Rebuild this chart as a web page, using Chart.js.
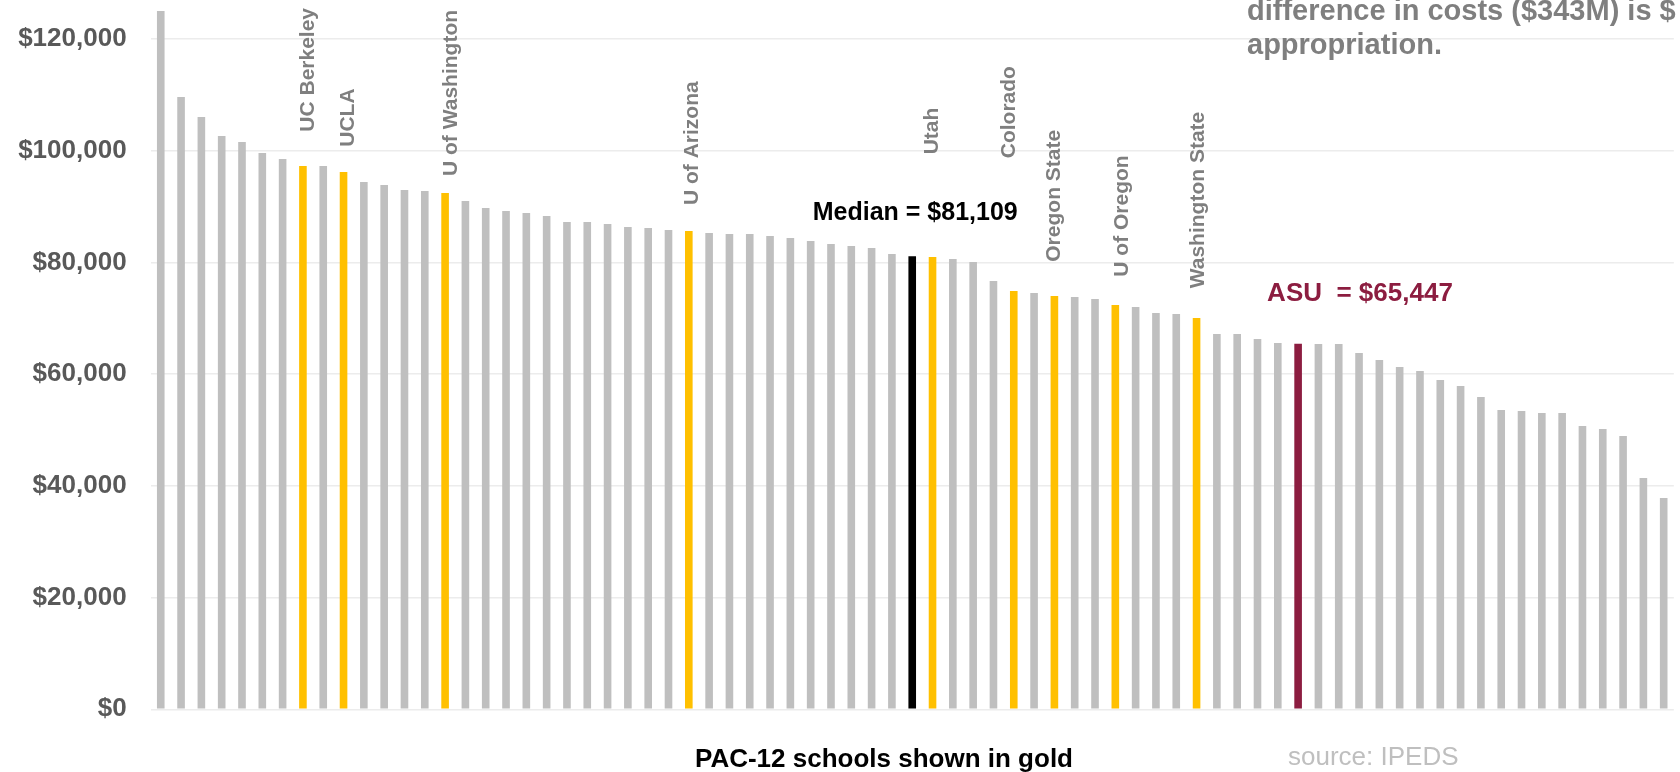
<!DOCTYPE html>
<html>
<head>
<meta charset="utf-8">
<title>Cost per student</title>
<script src="https://cdn.jsdelivr.net/npm/chart.js"></script>
<style>
body { margin: 0; background: #fff; }
#wrap { width: 1680px; height: 772px; position: relative; }
</style>
</head>
<body>
<div id="wrap"><canvas id="chart1"></canvas></div>
<script>
// cost per student, highest to lowest
var costs = [125030, 109630, 106050, 102650, 101580, 99610, 98530, 97280, 97280, 96210,
  94410, 93880, 92980, 92800, 92440, 91010, 89760, 89220, 88860, 88330,
  87250, 87250, 86890, 86360, 86180, 85820, 85640, 85280, 85100, 85100,
  84750, 84390, 83850, 83310, 82960, 82600, 81520, 81109, 80990, 80630,
  80090, 76690, 74900, 74540, 74000, 73820, 73460, 72390, 72030, 70960,
  70780, 70060, 67200, 67200, 66300, 65590, 65447, 65410, 65410, 63800,
  62540, 61290, 60570, 58960, 57890, 55920, 53590, 53410, 53050, 53050,
  50730, 50190, 48940, 41410, 37830];
var pacIdx = [7, 9, 14, 26, 38, 42, 44, 47, 51];
var pacNames = ['UC Berkeley', 'UCLA', 'U of Washington', 'U of Arizona', 'Utah',
  'Colorado', 'Oregon State', 'U of Oregon', 'Washington State'];
var medianIdx = 37;
var asuIdx = 56;
var yTicks = [0, 20000, 40000, 60000, 80000, 100000, 120000];
var medianText = 'Median = $81,109';
var asuText = 'ASU  = $65,447';
var noteLines = ['difference in costs ($343M) is $', 'appropriation.'];
var xTitle = 'PAC-12 schools shown in gold';
var sourceText = 'source: IPEDS';

var FONT = '"Liberation Sans", Arial, sans-serif';
Chart.defaults.font.family = FONT;

var labels = costs.map(function(v, i) { return String(i + 1); });
var colors = costs.map(function(v, i) {
  if (i == medianIdx) return '#000000';
  if (i == asuIdx) return '#8c1d40';
  if (pacIdx.indexOf(i) >= 0) return '#ffc000';
  return '#bfbfbf';
});

// where each rotated name starts: [x shift px, value on y axis]
var nameSpot = [[5, 103420], [5, 100730], [6, 95490], [3, 90300], [0, 99370],
  [-5, 98660], [0, 80140], [7, 77460], [2, 75380]];

var notes = {
  id: 'notes',
  afterDatasetsDraw: function(chart) {
    var ctx = chart.ctx, x = chart.scales.x, y = chart.scales.y;
    ctx.save();
    ctx.font = 'bold 21px ' + FONT;
    ctx.fillStyle = '#7f7f7f';
    ctx.textBaseline = 'middle';
    ctx.textAlign = 'left';
    pacIdx.forEach(function(idx, k) {
      var px = x.getPixelForValue(idx) + nameSpot[k][0];
      var py = y.getPixelForValue(nameSpot[k][1]);
      ctx.save();
      ctx.translate(px, py);
      ctx.rotate(-Math.PI / 2);
      ctx.fillText(pacNames[k], 0, 0);
      ctx.restore();
    });

    ctx.textBaseline = 'alphabetic';
    ctx.font = 'bold 25px ' + FONT;
    ctx.fillStyle = '#000000';
    ctx.textAlign = 'center';
    ctx.fillText(medianText, x.getPixelForValue(medianIdx) + 3, y.getPixelForValue(87600));

    ctx.font = 'bold 26px ' + FONT;
    ctx.fillStyle = '#8c1d40';
    ctx.textAlign = 'left';
    ctx.fillText(asuText, x.getPixelForValue(asuIdx) - 31, y.getPixelForValue(73150));

    ctx.font = 'bold 29px ' + FONT;
    ctx.fillStyle = '#7f7f7f';
    ctx.fillText(noteLines[0], 1247, 20);
    ctx.fillText(noteLines[1], 1247, 53.5);

    ctx.font = 'bold 26px ' + FONT;
    ctx.fillStyle = '#000000';
    ctx.fillText(xTitle, 695, 767);

    ctx.font = '26px ' + FONT;
    ctx.fillStyle = '#bfbfbf';
    ctx.fillText(sourceText, 1288, 765);
    ctx.restore();
  }
};

var ch1 = document.getElementById('chart1').getContext('2d');
var chart1 = new Chart(ch1, {
  type: 'bar',
  data: {
    labels: labels,
    datasets: [{
      data: costs,
      backgroundColor: colors,
      barPercentage: 0.375,
      categoryPercentage: 1.0
    }]
  },
  options: {
    responsive: true,
    maintainAspectRatio: false,
    animation: false,
    layout: { padding: { left: 0, right: 6.15, top: 0, bottom: 62.7 } },
    plugins: { legend: { display: false }, tooltip: { enabled: false } },
    scales: {
      x: { display: false, offset: true },
      y: {
        min: 0,
        max: 127000,
        border: { display: false },
        grid: { color: '#ececec', lineWidth: 1.5, drawTicks: false },
        ticks: {
          stepSize: 20000,
          includeBounds: false,
          padding: 24,
          color: '#595959',
          font: { size: 26, weight: 'bold' },
          callback: function(v) { return '$' + v.toLocaleString('en-US'); }
        },
        afterBuildTicks: function(s) {
          s.ticks = yTicks.map(function(v) { return { value: v }; });
        },
        afterFit: function(s) {
          s.width = 150.6;
          s.paddingTop = 0;
          s.paddingBottom = 0;
        }
      }
    }
  },
  plugins: [notes]
});
</script>
</body>
</html>
